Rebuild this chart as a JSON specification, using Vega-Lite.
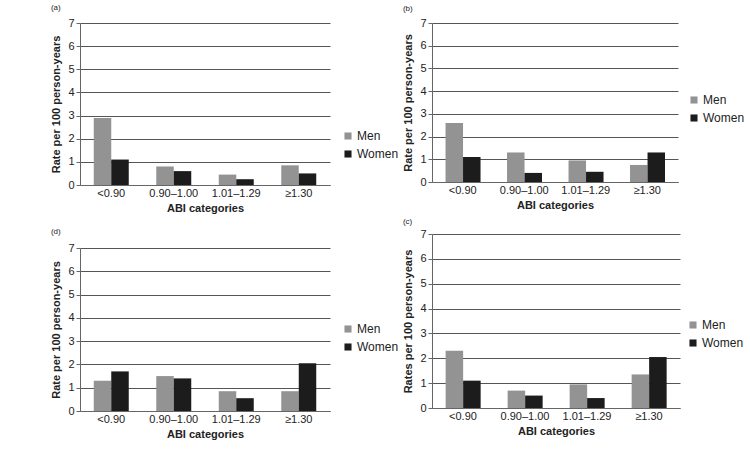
{
  "$schema": "https://vega.github.io/schema/vega-lite/v6.json",
  "background": "white",
  "padding": {"left": 50, "top": 4, "right": 2, "bottom": 2},
  "config": {
    "font": "Liberation Sans",
    "view": {"stroke": null},
    "axis": {"labelFont": "Liberation Sans", "titleFont": "Liberation Sans", "labelColor": "#222", "titleColor": "#222", "domainColor": "#666", "tickColor": "#666", "gridColor": "#555", "gridWidth": 1, "labelFontSize": 11, "titleFontSize": 11, "titleFontWeight": "bold", "tickSize": 4},
    "legend": {"labelFont": "Liberation Sans", "labelFontSize": 12, "labelColor": "#222", "symbolType": "square", "symbolSize": 50, "rowPadding": 6, "labelOffset": 3, "orient": "none"},
    "title": {"font": "Liberation Sans", "fontSize": 8, "fontWeight": "normal", "anchor": "start", "color": "#222", "frame": "bounds"}
  },
  "datasets": {
    "rates": [
      {"panel": "a", "cat": "<0.90", "sex": "Men", "rate": 2.9},
      {"panel": "a", "cat": "<0.90", "sex": "Women", "rate": 1.1},
      {"panel": "a", "cat": "0.90–1.00", "sex": "Men", "rate": 0.8},
      {"panel": "a", "cat": "0.90–1.00", "sex": "Women", "rate": 0.6},
      {"panel": "a", "cat": "1.01–1.29", "sex": "Men", "rate": 0.45},
      {"panel": "a", "cat": "1.01–1.29", "sex": "Women", "rate": 0.25},
      {"panel": "a", "cat": "≥1.30", "sex": "Men", "rate": 0.85},
      {"panel": "a", "cat": "≥1.30", "sex": "Women", "rate": 0.5},
      {"panel": "b", "cat": "<0.90", "sex": "Men", "rate": 2.6},
      {"panel": "b", "cat": "<0.90", "sex": "Women", "rate": 1.1},
      {"panel": "b", "cat": "0.90–1.00", "sex": "Men", "rate": 1.3},
      {"panel": "b", "cat": "0.90–1.00", "sex": "Women", "rate": 0.4},
      {"panel": "b", "cat": "1.01–1.29", "sex": "Men", "rate": 0.95},
      {"panel": "b", "cat": "1.01–1.29", "sex": "Women", "rate": 0.45},
      {"panel": "b", "cat": "≥1.30", "sex": "Men", "rate": 0.75},
      {"panel": "b", "cat": "≥1.30", "sex": "Women", "rate": 1.3},
      {"panel": "d", "cat": "<0.90", "sex": "Men", "rate": 1.3},
      {"panel": "d", "cat": "<0.90", "sex": "Women", "rate": 1.7},
      {"panel": "d", "cat": "0.90–1.00", "sex": "Men", "rate": 1.5},
      {"panel": "d", "cat": "0.90–1.00", "sex": "Women", "rate": 1.4},
      {"panel": "d", "cat": "1.01–1.29", "sex": "Men", "rate": 0.85},
      {"panel": "d", "cat": "1.01–1.29", "sex": "Women", "rate": 0.55},
      {"panel": "d", "cat": "≥1.30", "sex": "Men", "rate": 0.85},
      {"panel": "d", "cat": "≥1.30", "sex": "Women", "rate": 2.05},
      {"panel": "c", "cat": "<0.90", "sex": "Men", "rate": 2.3},
      {"panel": "c", "cat": "<0.90", "sex": "Women", "rate": 1.1},
      {"panel": "c", "cat": "0.90–1.00", "sex": "Men", "rate": 0.7},
      {"panel": "c", "cat": "0.90–1.00", "sex": "Women", "rate": 0.5},
      {"panel": "c", "cat": "1.01–1.29", "sex": "Men", "rate": 0.95},
      {"panel": "c", "cat": "1.01–1.29", "sex": "Women", "rate": 0.4},
      {"panel": "c", "cat": "≥1.30", "sex": "Men", "rate": 1.35},
      {"panel": "c", "cat": "≥1.30", "sex": "Women", "rate": 2.05}
    ]
  },
  "hconcat": [
    {
      "vconcat": [
        {
          "title": {"text": "(a)", "offset": 5},
          "width": 250, "height": 162,
          "data": {"name": "rates"},
          "transform": [{"filter": "datum.panel === 'a'"}],
          "mark": {"type": "bar"},
          "encoding": {
            "x": {"field": "cat", "type": "nominal", "sort": ["<0.90", "0.90–1.00", "1.01–1.29", "≥1.30"], "scale": {"paddingInner": 0.44, "paddingOuter": 0.22}, "axis": {"title": "ABI categories", "labelAngle": 0, "ticks": false, "titlePadding": 4}},
            "xOffset": {"field": "sex", "type": "nominal", "scale": {"paddingInner": 0}},
            "y": {"field": "rate", "type": "quantitative", "scale": {"domain": [0, 7]}, "axis": {"title": "Rate per 100 person-years", "values": [0,1,2,3,4,5,6,7], "titlePadding": 6}},
            "color": {"field": "sex", "type": "nominal", "scale": {"domain": ["Men", "Women"], "range": ["#939393", "#1c1c1c"]}, "legend": {"title": null, "legendX": 262, "legendY": 107}}
          }
        },
        {
          "title": {"text": "(d)", "offset": 6},
          "width": 250, "height": 163,
          "data": {"name": "rates"},
          "transform": [{"filter": "datum.panel === 'd'"}],
          "mark": {"type": "bar"},
          "encoding": {
            "x": {"field": "cat", "type": "nominal", "sort": ["<0.90", "0.90–1.00", "1.01–1.29", "≥1.30"], "scale": {"paddingInner": 0.44, "paddingOuter": 0.22}, "axis": {"title": "ABI categories", "labelAngle": 0, "ticks": false, "titlePadding": 4}},
            "xOffset": {"field": "sex", "type": "nominal", "scale": {"paddingInner": 0}},
            "y": {"field": "rate", "type": "quantitative", "scale": {"domain": [0, 7]}, "axis": {"title": "Rate per 100 person-years", "values": [0,1,2,3,4,5,6,7], "titlePadding": 6}},
            "color": {"field": "sex", "type": "nominal", "scale": {"domain": ["Men", "Women"], "range": ["#939393", "#1c1c1c"]}, "legend": {"title": null, "legendX": 262, "legendY": 75}}
          }
        }
      ],
      "spacing": 15,
      "resolve": {"scale": {"color": "independent"}, "legend": {"color": "independent"}}
    },
    {
      "vconcat": [
        {
          "title": {"text": "(b)", "offset": 4},
          "width": 246, "height": 159,
          "data": {"name": "rates"},
          "transform": [{"filter": "datum.panel === 'b'"}],
          "mark": {"type": "bar"},
          "encoding": {
            "x": {"field": "cat", "type": "nominal", "sort": ["<0.90", "0.90–1.00", "1.01–1.29", "≥1.30"], "scale": {"paddingInner": 0.44, "paddingOuter": 0.22}, "axis": {"title": "ABI categories", "labelAngle": 0, "ticks": false, "titlePadding": 4}},
            "xOffset": {"field": "sex", "type": "nominal", "scale": {"paddingInner": 0}},
            "y": {"field": "rate", "type": "quantitative", "scale": {"domain": [0, 7]}, "axis": {"title": "Rate per 100 person-years", "values": [0,1,2,3,4,5,6,7], "titlePadding": 6}},
            "color": {"field": "sex", "type": "nominal", "scale": {"domain": ["Men", "Women"], "range": ["#939393", "#1c1c1c"]}, "legend": {"title": null, "legendX": 256, "legendY": 71}}
          }
        },
        {
          "title": {"text": "(c)", "offset": 2},
          "width": 248, "height": 174,
          "data": {"name": "rates"},
          "transform": [{"filter": "datum.panel === 'c'"}],
          "mark": {"type": "bar"},
          "encoding": {
            "x": {"field": "cat", "type": "nominal", "sort": ["<0.90", "0.90–1.00", "1.01–1.29", "≥1.30"], "scale": {"paddingInner": 0.44, "paddingOuter": 0.22}, "axis": {"title": "ABI categories", "labelAngle": 0, "ticks": false, "titlePadding": 4}},
            "xOffset": {"field": "sex", "type": "nominal", "scale": {"paddingInner": 0}},
            "y": {"field": "rate", "type": "quantitative", "scale": {"domain": [0, 7]}, "axis": {"title": "Rates per 100 person-years", "values": [0,1,2,3,4,5,6,7], "titlePadding": 6}},
            "color": {"field": "sex", "type": "nominal", "scale": {"domain": ["Men", "Women"], "range": ["#939393", "#1c1c1c"]}, "legend": {"title": null, "legendX": 255, "legendY": 85}}
          }
        }
      ],
      "spacing": 8,
      "resolve": {"scale": {"color": "independent"}, "legend": {"color": "independent"}}
    }
  ],
  "spacing": 3
}
